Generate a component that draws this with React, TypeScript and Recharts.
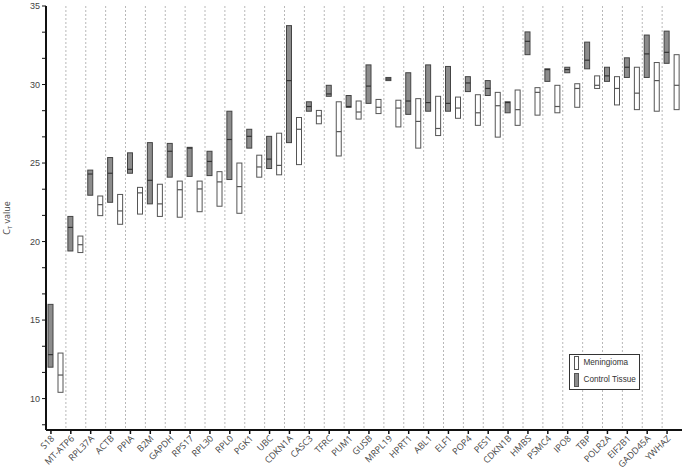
import { ComposedChart, Bar, XAxis, YAxis, CartesianGrid, Legend } from 'recharts';

const genes = [
  'S18', 'MT-ATP6', 'RPL37A', 'ACTB', 'PPIA', 'B2M', 'GAPDH', 'RPS17', 'RPL30', 'RPL0',
  'PGK1', 'UBC', 'CDKN1A', 'CASC3', 'TFRC', 'PUM1', 'GUSB', 'MRPL19', 'HPRT1', 'ABL1',
  'ELF1', 'POP4', 'PES1', 'CDKN1B', 'HMBS', 'PSMC4', 'IPO8', 'TBP', 'POLR2A', 'EIF2B1',
  'GADD45A', 'YWHAZ',
];

// Meningioma (white boxes): min, max, median
const meningiomaMin = [
  10.4, 19.3, 21.65, 21.1, 21.75, 21.6, 21.55, 21.9, 22.25, 21.8,
  24.1, 24.25, 24.9, 27.5, 25.45, 27.8, 28.15, 27.3, 25.95, 26.75,
  27.85, 27.4, 26.65, 27.4, 28.05, 28.2, 28.55, 29.75, 28.7, 28.4,
  28.3, 28.4,
];
const meningiomaMax = [
  12.9, 20.35, 22.9, 23.0, 23.45, 23.65, 23.85, 23.85, 24.45, 25.0,
  25.5, 26.9, 27.9, 28.35, 28.9, 28.95, 29.05, 29.0, 29.1, 29.25,
  29.2, 29.35, 29.5, 29.65, 29.8, 29.95, 30.05, 30.55, 30.5, 31.1,
  31.4, 31.9,
];
const meningiomaMedian = [
  11.5, 19.8, 22.35, 21.95, 23.1, 22.4, 23.3, 23.35, 23.8, 23.5,
  24.75, 24.85, 27.15, 28.0, 27.0, 28.25, 28.55, 28.5, 27.65, 27.2,
  28.5, 28.2, 28.65, 28.4, 29.5, 28.6, 29.75, 29.95, 29.75, 29.45,
  30.25, 29.95,
];

// Control tissue (grey boxes): min, max, median
const controlMin = [
  12.0, 19.4, 22.95, 22.5, 24.35, 22.4, 24.1, 24.15, 24.2, 23.95,
  25.95, 24.65, 26.3, 28.3, 29.25, 28.55, 28.8, 30.25, 28.1, 28.3,
  28.3, 29.55, 29.3, 28.2, 31.9, 30.2, 30.75, 31.0, 30.2, 30.45,
  30.45, 31.35,
];
const controlMax = [
  16.0, 21.6, 24.55, 25.35, 25.65, 26.3, 26.25, 26.0, 25.75, 28.3,
  27.15, 26.7, 33.75, 28.9, 29.95, 29.3, 31.25, 30.45, 30.75, 31.25,
  31.15, 30.5, 30.25, 28.9, 33.35, 31.0, 31.1, 32.7, 31.1, 31.7,
  33.15, 33.4,
];
const controlMedian = [
  12.8, 20.9, 24.3, 24.35, 24.6, 23.9, 25.75, 25.95, 25.1, 26.5,
  26.7, 25.25, 30.25, 28.6, 29.4, 28.6, 29.9, 30.35, 28.95, 28.85,
  28.8, 30.1, 29.75, 28.85, 32.75, 30.95, 30.95, 31.55, 30.55, 31.1,
  31.95, 32.05,
];

const yMajorTicks = [10, 15, 20, 25, 30, 35];
const yTicks = [
  8.333, 10, 11.667, 13.333, 15, 16.667, 18.333, 20, 21.667, 23.333,
  25, 26.667, 28.333, 30, 31.667, 33.333, 35,
];

const data = genes.map((gene, i) => ({
  gene,
  men: [meningiomaMin[i], meningiomaMax[i]],
  menMed: meningiomaMedian[i],
  ctrl: [controlMin[i], controlMax[i]],
  ctrlMed: controlMedian[i],
}));

const FONT = '"Open Sans", "DejaVu Sans", sans-serif';
const ARIAL = '"Liberation Sans", Arial, sans-serif';

const makeBox = (rangeKey: string, medKey: string, fill: string, stroke: string, medStroke: string) =>
  (props: any) => {
    const { x, y, width, height, payload } = props;
    if (x == null || y == null) return <g />;
    const [lo, hi] = payload[rangeKey];
    const med = payload[medKey];
    const top = Math.min(y, y + height);
    const h = Math.abs(height);
    const my = top + (h * (hi - med)) / (hi - lo);
    return (
      <g>
        <rect x={x} y={top} width={width} height={h} fill={fill} stroke={stroke} strokeWidth={1} />
        <line x1={x} x2={x + width} y1={my} y2={my} stroke={medStroke} strokeWidth={1.2} />
      </g>
    );
  };

const GeneTick = (props: any) => {
  const { x, y, payload } = props;
  const tx = x - 5;
  const ax = tx + 4;
  const ay = y + 9;
  return (
    <g>
      <line x1={tx} x2={tx} y1={y} y2={y + 4} stroke="#111" strokeWidth={1.5} />
      <text
        x={ax}
        y={ay}
        textAnchor="end"
        transform={`rotate(-45 ${ax} ${ay})`}
        fontSize={9}
        fontFamily={FONT}
        fill="#444"
        opacity={0.99}
      >
        {payload.value}
      </text>
    </g>
  );
};

const legendOrder = ['Meningioma', 'Control Tissue'];

const LegendBox = (props: any) => {
  const items = [...(props.payload || [])].sort(
    (a: any, b: any) => legendOrder.indexOf(a.value) - legendOrder.indexOf(b.value)
  );
  return (
    <div
      style={{
        boxSizing: 'border-box',
        width: 71,
        height: 36,
        border: '1.5px solid #333',
        background: '#fff',
        padding: '0.5px 0 0 3.5px',
        fontFamily: ARIAL,
        fontSize: 8.2,
        color: '#333',
        whiteSpace: 'nowrap',
        lineHeight: '14px',
      }}
    >
      {items.map((it: any, i: number) => (
        <div
          key={it.value}
          style={{ display: 'flex', alignItems: 'center', height: 14, marginTop: i === 0 ? 0 : 3 }}
        >
          <span
            style={{
              boxSizing: 'border-box',
              display: 'inline-block',
              width: 5,
              height: 14,
              border: '1px solid #555',
              background: it.value === 'Meningioma' ? '#fff' : '#8c8c8c',
              marginRight: 5,
            }}
          />
          <span>{it.value}</span>
        </div>
      ))}
    </div>
  );
};

const gridLines = (arg: any) => {
  const off = arg && arg.offset ? arg.offset : { left: 46, width: 636 };
  const n = genes.length;
  const out: number[] = [];
  for (let i = 1; i < n; i++) out.push(off.left + (off.width * i) / n);
  return out;
};

export default function App() {
  return (
    <div style={{ position: 'absolute', left: 0, top: 0, background: '#fff' }}>
      <ComposedChart
        width={685}
        height={472}
        data={data}
        margin={{ top: 6, right: 3, left: 8, bottom: 0 }}
        barSize={5}
        barGap={5}
      >
        <CartesianGrid
          horizontal={false}
          vertical
          stroke="#b8b8b8"
          strokeDasharray="2 2"
          verticalCoordinatesGenerator={gridLines}
        />
        <XAxis
          dataKey="gene"
          interval={0}
          height={42}
          tickLine={false}
          tickSize={0}
          tickMargin={0}
          tick={<GeneTick />}
          axisLine={{ stroke: '#111', strokeWidth: 2 }}
        />
        <XAxis
          xAxisId="top"
          dataKey="gene"
          orientation="top"
          height={0}
          tick={false}
          tickLine={false}
          axisLine={{ stroke: '#111', strokeWidth: 2 }}
        />
        <YAxis
          type="number"
          domain={[8, 35]}
          ticks={yTicks}
          interval={0}
          width={38}
          tickSize={4}
          tickMargin={2}
          tickFormatter={(v: number) => (yMajorTicks.includes(v) ? String(v) : '')}
          tick={{ fontSize: 9, fontFamily: ARIAL, fill: '#444' }}
          tickLine={{ stroke: '#111' }}
          axisLine={{ stroke: '#111', strokeWidth: 2 }}
          label={{
            content: () => (
              <text
                x={10}
                y={218}
                transform="rotate(-90 10 218)"
                textAnchor="middle"
                fontSize={9}
                fontFamily={FONT}
                fill="#444"
                opacity={0.99}
              >
                C<tspan fontSize={6} dy={2}>T</tspan>
                <tspan dy={-2}> value</tspan>
              </text>
            ),
          }}
        />
        <YAxis
          yAxisId="right"
          orientation="right"
          width={0}
          domain={[8, 35]}
          tick={false}
          tickLine={false}
          axisLine={{ stroke: '#111', strokeWidth: 2 }}
        />
        <Legend
          layout="vertical"
          align="center"
          verticalAlign="middle"
          wrapperStyle={{ left: 569, top: 354, width: 71 }}
          content={<LegendBox />}
        />
        <Bar
          name="Control Tissue"
          dataKey="ctrl"
          fill="#8c8c8c"
          shape={makeBox('ctrl', 'ctrlMed', '#8c8c8c', '#444', '#333')}
          isAnimationActive={false}
        />
        <Bar
          name="Meningioma"
          dataKey="men"
          fill="#ffffff"
          shape={makeBox('men', 'menMed', '#ffffff', '#555', '#555')}
          isAnimationActive={false}
        />
      </ComposedChart>
    </div>
  );
}
